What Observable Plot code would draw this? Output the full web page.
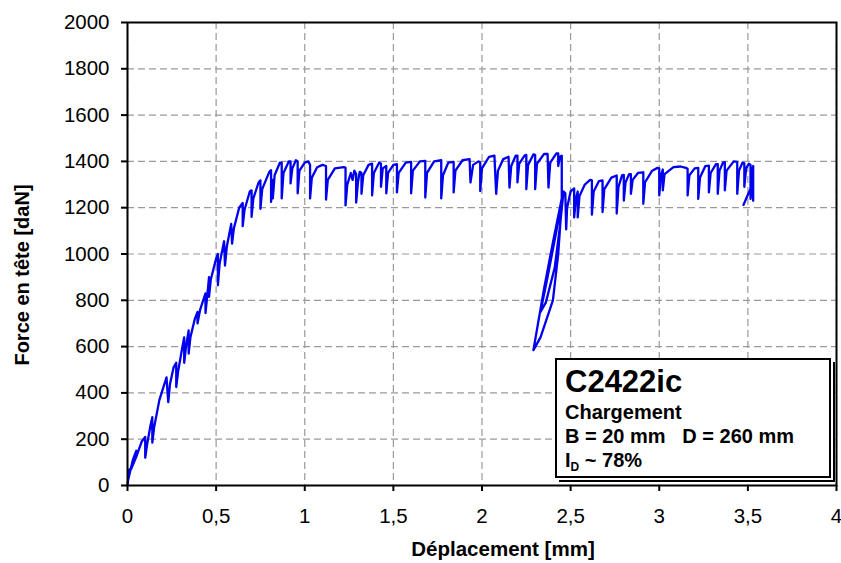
<!DOCTYPE html>
<html>
<head>
<meta charset="utf-8">
<script src="https://cdn.jsdelivr.net/npm/d3@7"></script>
<script src="https://cdn.jsdelivr.net/npm/@observablehq/plot@0.6"></script>
<style>
html, body { margin: 0; padding: 0; background: #fff; }
#wrap { position: relative; width: 841px; height: 563px; font-family: "Liberation Sans", Arial, sans-serif; }
#note { position: absolute; left: 555px; top: 358px; width: 276px; height: 120px; box-sizing: border-box;
  border: 2px solid #000; background: #fff; box-shadow: 2px 2px 0 0 #fff, 4px 4px 0 0 #000;
  padding: 5px 0 0 8px; color: #000; }
#note .l1 { font-size: 31px; line-height: 34.6px; font-weight: bold; }
#note .l2 { font-size: 20px; line-height: 24px; font-weight: bold; white-space: pre; }
#note sub { font-size: 12px; vertical-align: -4px; line-height: 0; }
</style>
</head>
<body>
<div id="wrap"></div>
<script>
const xTicks = [0, 0.5, 1, 1.5, 2, 2.5, 3, 3.5, 4];
const yTicks = [0, 200, 400, 600, 800, 1000, 1200, 1400, 1600, 1800, 2000];
const xTitle = "Déplacement [mm]";
const yTitle = "Force en tête [daN]";
const essai = "C2422ic";
const typeEssai = "Chargement";
const dimensions = "B = 20 mm   D = 260 mm";
const densite = "~ 78%";

// [déplacement (mm), force (daN)]
const chargement = [
  [0,0],[0.01,70],[0.004,25],[0.03,110],[0.05,150],[0.02,70],[0.05,125],[0.08,190],[0.10,210],[0.10,120],
  [0.11,175],[0.13,260],[0.14,295],[0.14,185],[0.15,250],[0.18,370],[0.22,467],[0.23,360],[0.24,440],[0.26,510],
  [0.275,530],[0.275,425],[0.285,490],[0.31,600],[0.32,640],[0.32,530],[0.33,600],[0.345,670],[0.345,570],[0.355,640],
  [0.38,720],[0.395,750],[0.395,700],[0.41,760],[0.44,830],[0.44,745],[0.45,820],[0.46,900],[0.46,815],[0.47,890],
  [0.50,980],[0.51,1000],[0.51,865],[0.52,960],[0.545,1055],[0.55,950],[0.56,1030],[0.585,1130],[0.59,1045],[0.60,1110],
  [0.63,1200],[0.65,1220],[0.65,1120],[0.66,1190],[0.69,1270],[0.70,1275],[0.70,1160],[0.71,1240],[0.74,1310],[0.75,1318],
  [0.75,1195],[0.76,1280],[0.80,1355],[0.81,1362],[0.81,1225],[0.82,1320],[0.82,1240],[0.83,1340],[0.86,1395],[0.87,1395],
  [0.87,1240],[0.88,1350],[0.91,1400],[0.92,1400],[0.92,1305],[0.93,1370],[0.95,1405],[0.96,1400],[0.96,1262],[0.97,1360],
  [1.00,1395],[1.02,1400],[1.03,1385],[1.03,1240]
];
const palier1 = [
  [1.04,1330],[1.07,1375],[1.10,1385],[1.12,1380],[1.12,1235],[1.13,1320],[1.17,1370],[1.22,1375],[1.23,1373],[1.23,1210],
  [1.24,1300],[1.26,1350],[1.27,1320],[1.28,1360],[1.29,1345],[1.29,1222],[1.30,1310],[1.31,1355],[1.32,1350],[1.32,1260],
  [1.33,1340],[1.36,1385],[1.38,1390],[1.38,1253],[1.39,1350],[1.42,1395],[1.43,1390],[1.43,1290],[1.44,1370],[1.46,1380],
  [1.46,1262],[1.47,1350],[1.50,1385],[1.52,1388],[1.52,1266],[1.53,1350],[1.57,1395],[1.60,1398],[1.60,1262],[1.61,1360],
  [1.65,1400],[1.68,1402],[1.68,1244],[1.69,1350],[1.73,1400],[1.77,1405],[1.77,1240],[1.78,1340],[1.81,1395],[1.84,1398],
  [1.84,1266],[1.85,1360],[1.89,1405],[1.93,1410],[1.935,1309],[1.95,1385],[1.98,1400],[1.99,1395],[1.99,1272],[2.00,1370],
  [2.04,1420],[2.07,1425],[2.08,1260],[2.09,1360],[2.12,1410],[2.15,1420],[2.155,1287],[2.165,1380],[2.19,1425],[2.20,1425],
  [2.20,1309],[2.21,1390],[2.24,1425],[2.25,1428],[2.25,1280],[2.26,1385],[2.29,1430],[2.30,1428],[2.30,1280],[2.31,1390],
  [2.35,1432],[2.37,1432],[2.375,1287],[2.385,1395],[2.42,1435],[2.43,1435],[2.43,1380],[2.44,1420],[2.45,1425],[2.45,1240]
];
const decharge = [
  [2.40,1050],[2.35,850],[2.29,585],[2.33,640],[2.40,800],[2.43,1000],[2.45,1220],[2.42,1100],[2.37,900],[2.33,750],
  [2.36,790],[2.41,940],[2.44,1120],[2.46,1270]
];
const palier2 = [
  [2.47,1262],[2.475,1106],[2.48,1200],[2.50,1270],[2.52,1283],[2.52,1158],[2.53,1240],[2.54,1270],[2.54,1158],[2.55,1250],
  [2.58,1300],[2.61,1320],[2.62,1318],[2.62,1170],[2.63,1270],[2.66,1315],[2.68,1318],[2.68,1181],[2.69,1280],[2.73,1330],
  [2.76,1339],[2.76,1175],[2.77,1290],[2.79,1340],[2.80,1342],[2.80,1231],[2.81,1310],[2.83,1345],[2.84,1345],[2.84,1260],
  [2.85,1320],[2.88,1350],[2.91,1353],[2.91,1217],[2.92,1310],[2.96,1360],[2.99,1372],[3.00,1370],[3.00,1253],[3.01,1340],
  [3.02,1365],[3.02,1275],[3.03,1345],[3.08,1375],[3.12,1378],[3.15,1372],[3.16,1368],[3.16,1253],[3.17,1340],[3.20,1370],
  [3.22,1372],[3.22,1238],[3.23,1330],[3.26,1380],[3.28,1382],[3.28,1266],[3.29,1350],[3.32,1388],[3.33,1388],[3.33,1260],
  [3.34,1360],[3.36,1395],[3.37,1397],[3.37,1275],[3.38,1360],[3.42,1400],[3.44,1398],[3.44,1260],[3.45,1360],[3.47,1395],
  [3.48,1392],[3.48,1290],[3.49,1370],[3.505,1390],[3.515,1385],[3.515,1238],[3.52,1350],[3.53,1380],[3.53,1230],[3.525,1300],
  [3.475,1212]
];

const courbe = [...chargement, ...palier1, ...decharge, ...palier2];
const fmtX = d => String(d).replace(".", ",");
const fmtY = d => String(d);

const chart = Plot.plot({
  width: 841,
  height: 563,
  marginLeft: 127,
  marginRight: 5,
  marginTop: 22,
  marginBottom: 78,
  x: {domain: [0, 4]},
  y: {domain: [0, 2000]},
  style: {fontFamily: "'Liberation Sans', Arial, sans-serif", fontSize: "20.5px", color: "#000", background: "#fff", overflow: "visible"},
  marks: [
    Plot.gridX(xTicks, {stroke: "#9a9a9a", strokeOpacity: 1, strokeWidth: 1.2, strokeDasharray: "7,4"}),
    Plot.gridY(yTicks, {stroke: "#9a9a9a", strokeOpacity: 1, strokeWidth: 1.2, strokeDasharray: "7,4"}),
    Plot.line(courbe, {x: d => d[0], y: d => d[1], stroke: "#0000ee", strokeWidth: 2.3, strokeLinejoin: "round"}),
    Plot.frame({stroke: "#000", strokeWidth: 2}),
    Plot.axisX(xTicks, {tickSize: 6, tickPadding: 17, strokeWidth: 2, tickFormat: fmtX, fontSize: 20.5, label: null}),
    Plot.axisY(yTicks, {tickSize: 6, tickPadding: 12, strokeWidth: 2, tickFormat: fmtY, fontSize: 20.5, label: null}),
    Plot.text([xTitle], {text: d => d, frameAnchor: "bottom", textAnchor: "middle", lineAnchor: "middle", dx: 21, dy: 64, fontWeight: "bold", fontSize: 20.5}),
    Plot.text([yTitle], {text: d => d, frameAnchor: "left", textAnchor: "middle", lineAnchor: "middle", dx: -105, dy: 21, rotate: -90, fontWeight: "bold", fontSize: 20})
  ]
});

const wrap = document.getElementById("wrap");
wrap.appendChild(chart);

const note = document.createElement("div");
note.id = "note";
const l1 = document.createElement("div"); l1.className = "l1"; l1.textContent = essai;
const l2 = document.createElement("div"); l2.className = "l2"; l2.textContent = typeEssai;
const l3 = document.createElement("div"); l3.className = "l2"; l3.textContent = dimensions;
const l4 = document.createElement("div"); l4.className = "l2";
l4.appendChild(document.createTextNode("I"));
const sub = document.createElement("sub"); sub.textContent = "D"; l4.appendChild(sub);
l4.appendChild(document.createTextNode(" " + densite));
note.append(l1, l2, l3, l4);
wrap.appendChild(note);
</script>
</body>
</html>
